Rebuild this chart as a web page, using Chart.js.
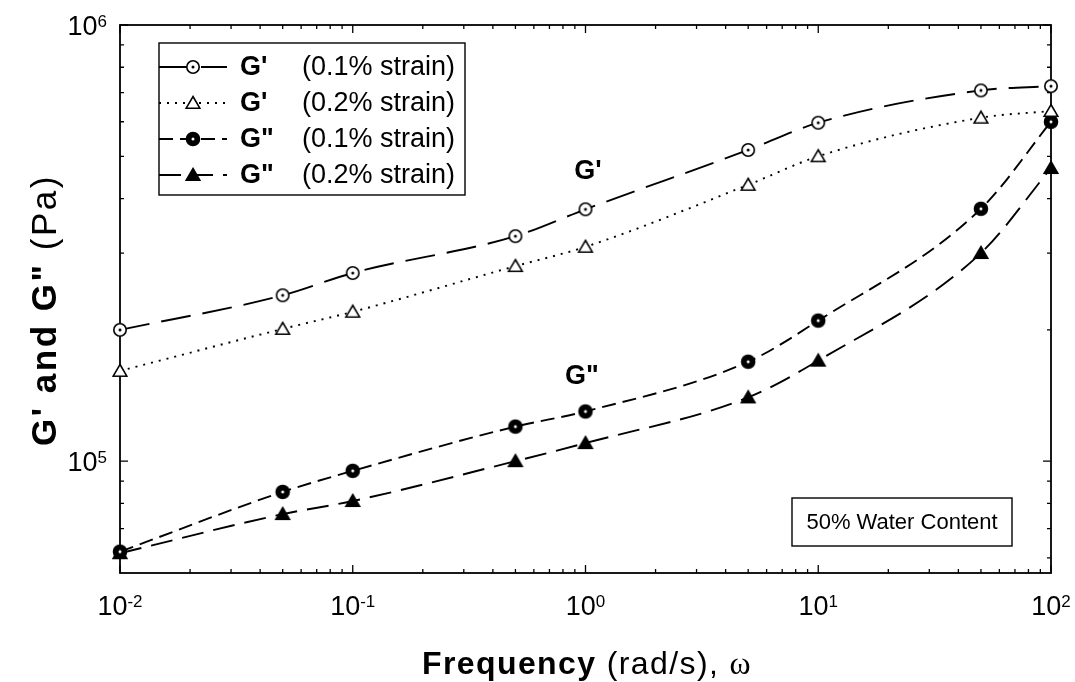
<!DOCTYPE html>
<html>
<head>
<meta charset="utf-8">
<script src="https://cdn.jsdelivr.net/npm/chart.js@4.4.0/dist/chart.umd.min.js"></script>
<style>
  body { margin: 0; background: #fff; }
  canvas { display: block; }
</style>
</head>
<body>
<canvas id="chart" width="1075" height="682"></canvas>
<script>
// data (Pa vs rad/s)
const freq = [0.01, 0.05, 0.1, 0.5, 1, 5, 10, 50, 100];
const gp01 = [2.0e5, 2.4e5, 2.7e5, 3.28e5, 3.78e5, 5.17e5, 5.97e5, 7.08e5, 7.24e5];
const gp02 = [1.61e5, 2.01e5, 2.2e5, 2.8e5, 3.1e5, 4.3e5, 5.0e5, 6.13e5, 6.35e5];
const gpp01 = [6.2e4, 8.5e4, 9.5e4, 1.2e5, 1.3e5, 1.69e5, 2.1e5, 3.79e5, 6.0e5];
const gpp02 = [6.15e4, 7.56e4, 8.1e4, 1.0e5, 1.1e5, 1.4e5, 1.7e5, 3.0e5, 4.7e5];

const modNames = ["G'", "G'", 'G"', 'G"'];
const strainNames = ['(0.1% strain)', '(0.2% strain)', '(0.1% strain)', '(0.2% strain)'];
const xTickVals = [0.01, 0.1, 1, 10, 100];
const xTickExps = ['-2', '-1', '0', '1', '2'];
const yTickVals = [1e5, 1e6];
const yTickExps = ['5', '6'];

const FONT = '"Liberation Sans", Arial, sans-serif';

function makeMarker(shape, filled) {
  const c = document.createElement('canvas');
  c.width = 18; c.height = 18;
  const g = c.getContext('2d');
  g.lineWidth = 1.6;
  g.strokeStyle = '#000';
  g.fillStyle = filled ? '#000' : '#fff';
  g.beginPath();
  if (shape === 'circle') {
    g.arc(9, 9, filled ? 6.5 : 6.2, 0, Math.PI * 2);
  } else {
    g.moveTo(9, 2.5); g.lineTo(15.8, 14.2); g.lineTo(2.2, 14.2); g.closePath();
  }
  g.fill(); g.stroke();
  if (shape === 'circle') {
    g.beginPath();
    g.fillStyle = filled ? '#fff' : '#000';
    g.arc(9, 9, 1.5, 0, Math.PI * 2);
    g.fill();
  }
  return c;
}

function pts(ys) { return freq.map((f, i) => ({ x: f, y: ys[i] })); }

function ds(ys, marker, dash) {
  return {
    data: pts(ys),
    borderColor: '#000',
    borderWidth: 1.9,
    borderDash: dash,
    pointStyle: marker,
    pointRadius: 7,
    cubicInterpolationMode: 'monotone',
    fill: false,
    clip: false
  };
}

const datasets = [
  ds(gp01, makeMarker('circle', false), [30, 12]),
  ds(gp02, makeMarker('triangle', false), [2, 6]),
  ds(gpp01, makeMarker('circle', true), [14, 7]),
  ds(gpp02, makeMarker('triangle', true), [22, 10])
];

function drawPow(ctx, x, y, exp, align) {
  ctx.textBaseline = 'alphabetic';
  ctx.textAlign = 'left';
  ctx.font = '27px ' + FONT;
  const wb = ctx.measureText('10').width;
  ctx.font = '17px ' + FONT;
  const we = ctx.measureText(exp).width;
  const w = wb + we;
  let x0 = align === 'right' ? x - w : x - w / 2;
  ctx.font = '27px ' + FONT;
  ctx.fillText('10', x0, y);
  ctx.font = '17px ' + FONT;
  ctx.fillText(exp, x0 + wb, y - 8);
}

function drawRuns(ctx, runs, cx, y, spacing) {
  ctx.letterSpacing = spacing + 'px';
  let total = 0;
  runs.forEach(r => { ctx.font = r[1]; total += ctx.measureText(r[0]).width; });
  let x = cx - total / 2;
  ctx.textAlign = 'left';
  ctx.textBaseline = 'alphabetic';
  runs.forEach(r => { ctx.font = r[1]; ctx.fillText(r[0], x, y); x += ctx.measureText(r[0]).width; });
  ctx.letterSpacing = '0px';
}

const framePlugin = {
  id: 'frame',
  beforeDatasetsDraw(chart) {
    const ctx = chart.ctx, a = chart.chartArea;
    const xs = chart.scales.x, ys = chart.scales.y;
    ctx.save();
    ctx.strokeStyle = '#000';
    ctx.lineWidth = 1.8;
    ctx.strokeRect(a.left, a.top, a.right - a.left, a.bottom - a.top);
    ctx.lineWidth = 1.3;
    ctx.beginPath();
    for (let d = -2; d <= 2; d++) {
      for (let m = 1; m <= 9; m++) {
        const v = m * Math.pow(10, d);
        if (v > 100.001) break;
        const px = xs.getPixelForValue(v);
        const len = m === 1 ? 8 : 4;
        ctx.moveTo(px, a.bottom); ctx.lineTo(px, a.bottom - len);
        ctx.moveTo(px, a.top); ctx.lineTo(px, a.top + len);
      }
    }
    for (let d = 4; d <= 6; d++) {
      for (let m = 1; m <= 9; m++) {
        const v = m * Math.pow(10, d);
        if (v < ys.min || v > ys.max * 1.0001) continue;
        const py = ys.getPixelForValue(v);
        const len = m === 1 ? 8 : 4;
        ctx.moveTo(a.left, py); ctx.lineTo(a.left + len, py);
        ctx.moveTo(a.right, py); ctx.lineTo(a.right - len, py);
      }
    }
    ctx.stroke();
    ctx.restore();
  },
  afterDraw(chart) {
    const ctx = chart.ctx;
    const xs = chart.scales.x, ys = chart.scales.y;
    ctx.save();
    ctx.fillStyle = '#000';
    xTickVals.forEach((v, i) => drawPow(ctx, xs.getPixelForValue(v), 615, xTickExps[i], 'center'));
    yTickVals.forEach((v, i) => drawPow(ctx, 107, ys.getPixelForValue(v) + 10, yTickExps[i], 'right'));

    // axis titles
    drawRuns(ctx, [['Frequency', 'bold 32px ' + FONT], [' (rad/s), ', '32px ' + FONT],
      ['\u03c9', '32px "Liberation Serif", "Times New Roman", serif']], 587, 674, 1.4);
    ctx.save();
    ctx.translate(56, 310);
    ctx.rotate(-Math.PI / 2);
    drawRuns(ctx, [['G\' and G"', 'bold 35px ' + FONT], [' (Pa)', '35px ' + FONT]], 0, 0, 2.5);
    ctx.restore();

    // curve labels
    ctx.font = 'bold 27px ' + FONT;
    ctx.textAlign = 'center';
    ctx.textBaseline = 'middle';
    ctx.fillText("G'", 588, 172);
    ctx.fillText('G"', 582, 377);

    // legend
    const lx = 159, ly = 43, lw = 306, lh = 152;
    ctx.fillStyle = '#fff';
    ctx.fillRect(lx, ly, lw, lh);
    ctx.strokeStyle = '#000';
    ctx.lineWidth = 1.4;
    ctx.strokeRect(lx, ly, lw, lh);
    chart.data.datasets.forEach((d, i) => {
      const ry = 67 + i * 36;
      ctx.save();
      ctx.lineWidth = d.borderWidth;
      ctx.setLineDash(d.borderDash);
      ctx.beginPath();
      ctx.moveTo(lx, ry); ctx.lineTo(227, ry);
      ctx.stroke();
      ctx.restore();
      ctx.drawImage(d.pointStyle, 193 - 9, ry - 9);
      ctx.fillStyle = '#000';
      ctx.textAlign = 'left';
      ctx.textBaseline = 'middle';
      ctx.font = 'bold 27px ' + FONT;
      ctx.fillText(modNames[i], 240, ry + 1);
      ctx.font = '27px ' + FONT;
      ctx.fillText(strainNames[i], 302, ry + 1);
    });

    // water content note
    ctx.fillStyle = '#fff';
    ctx.fillRect(792, 498, 220, 48);
    ctx.strokeRect(792, 498, 220, 48);
    ctx.fillStyle = '#000';
    ctx.font = '22px ' + FONT;
    ctx.textAlign = 'center';
    ctx.textBaseline = 'middle';
    ctx.fillText('50% Water Content', 902, 523);
    ctx.restore();
  }
};

new Chart(document.getElementById('chart'), {
  type: 'line',
  data: { datasets: datasets },
  options: {
    responsive: false,
    animation: false,
    layout: { padding: { top: 25, right: 24, left: 0, bottom: 0 } },
    plugins: { legend: { display: false }, tooltip: { enabled: false } },
    scales: {
      x: {
        type: 'logarithmic', min: 0.01, max: 100,
        grid: { display: false }, border: { display: false },
        ticks: { display: false },
        afterFit: s => { s.height = 109; }
      },
      y: {
        type: 'logarithmic', min: 55400, max: 1e6,
        grid: { display: false }, border: { display: false },
        ticks: { display: false },
        afterFit: s => { s.width = 120; }
      }
    }
  },
  plugins: [framePlugin]
});
</script>
</body>
</html>
